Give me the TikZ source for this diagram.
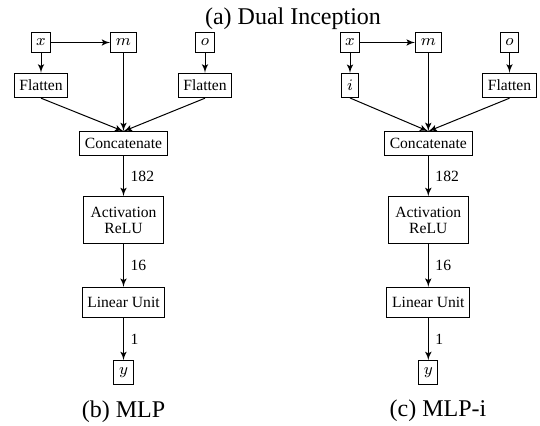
\documentclass[tikz,border=0pt]{standalone}
\usepackage{fontspec}
\setmainfont{Liberation Serif}
\usepackage{tikz}
\usetikzlibrary{arrows}
\newcommand*{\boxfont}{\fontsize{7.8}{8.35}\selectfont}
\newcommand*{\capfont}{\fontsize{12}{14}\selectfont}
\tikzstyle{block} = [draw, rectangle, inner xsep=2.6pt, inner ysep=3.35pt]
\tikzstyle{var} = [block]
\tikzstyle{caption} = [font=\capfont, inner sep=0pt]

\begin{document}
\begin{tikzpicture}[auto, >=latex', x=0.5pt, y=0.5pt, font=\boxfont, line width=0.5pt]
    \useasboundingbox (0,0) rectangle (540,-426);
    \node [caption] (capa) at (293,-19) {(a) Dual Inception};
    % MLP
    \node [var] (x1) at (41,-42.5) {$x$};
    \node [var, right of=x1, node distance=41.25pt] (m1) {$m$};
    \node [var, right of=m1, node distance=40.75pt] (o1) {$o$};
    \node [block, below of=x1, node distance=21.5pt] (fx1) {Flatten};
    \node [block, below of=o1, node distance=21.5pt] (fo1) {Flatten};
    \node [block, below of=m1, node distance=50.6pt] (cat1) {Concatenate};
    \node [block, below of=cat1, node distance=38.3pt, align=center, minimum height=23.5pt, minimum width=40pt] (act1) {Activation\\ReLU};
    \node [block, below of=act1, node distance=41.1pt, minimum height=15pt] (lin1) {Linear Unit};
    \node [var, below of=lin1, node distance=35pt] (y1) {$y$};
    \node [caption, below of=y1, node distance=19.4pt] (capb) {(b) MLP};
    \draw [->] (x1) -- (m1);
    \draw [->] (x1) -- (fx1);
    \draw [->] (o1) -- (fo1);
    \draw [->] (fx1.south) -- (cat1.north);
    \draw [->] (m1) -- (cat1);
    \draw [->] (fo1.south) -- (cat1.north);
    \draw [->] (cat1) -- node {182} (act1);
    \draw [->] (act1) -- node {16} (lin1);
    \draw [->] (lin1) -- node {1} (y1);
    % MLP-i
    \node [var] (x2) at (350,-42.5) {$x$};
    \node [var, right of=x2, node distance=39.15pt] (m2) {$m$};
    \node [var, right of=m2, node distance=40.6pt] (o2) {$o$};
    \node [var, below of=x2, node distance=21.5pt] (i2) {$i$};
    \node [block, below of=o2, node distance=21.5pt] (fo2) {Flatten};
    \node [block, below of=m2, node distance=50.6pt] (cat2) {Concatenate};
    \node [block, below of=cat2, node distance=38.3pt, align=center, minimum height=23.5pt, minimum width=40pt] (act2) {Activation\\ReLU};
    \node [block, below of=act2, node distance=41.1pt, minimum height=15pt] (lin2) {Linear Unit};
    \node [var, below of=lin2, node distance=35pt] (y2) {$y$};
    \node [caption] (capc) at (438,-411) {(c) MLP-i};
    \draw [->] (x2) -- (m2);
    \draw [->] (x2) -- (i2);
    \draw [->] (o2) -- (fo2);
    \draw [->] (i2.south) -- (cat2.north);
    \draw [->] (m2) -- (cat2);
    \draw [->] (fo2.south) -- (cat2.north);
    \draw [->] (cat2) -- node {182} (act2);
    \draw [->] (act2) -- node {16} (lin2);
    \draw [->] (lin2) -- node {1} (y2);
  \end{tikzpicture}
\end{document}
